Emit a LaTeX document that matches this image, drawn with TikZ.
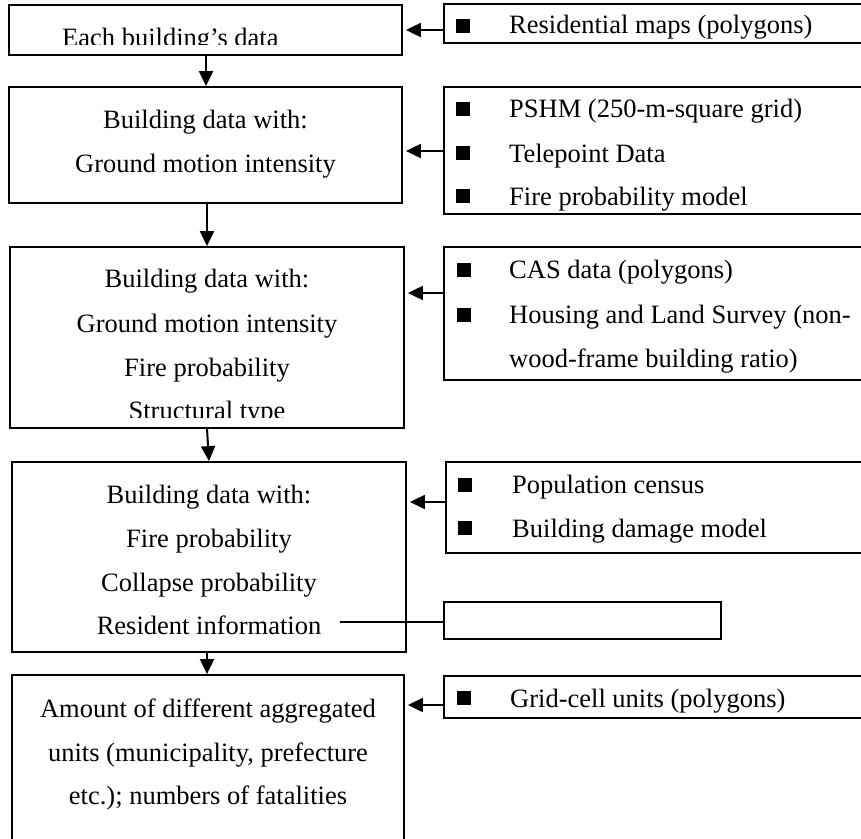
\documentclass[tikz,border=0pt]{standalone}
\usepackage{fontspec}
\setmainfont{Liberation Serif}
\usetikzlibrary{arrows.meta}
\begin{document}
\begin{tikzpicture}[x=1pt,y=-1pt,
  box/.style={draw,line width=1.8pt,inner sep=0pt},
  thinbox/.style={draw,line width=1.1pt,inner sep=0pt},
  txt/.style={font=\fontsize{26.5}{30}\selectfont,inner sep=0pt,anchor=base},
  rtxt/.style={font=\fontsize{26.5}{30}\selectfont,inner sep=0pt,anchor=base west},
  bul/.style={fill=black,inner sep=0pt,minimum width=14pt,minimum height=14pt},
  arr/.style={line width=2pt,-{Triangle[length=15pt,width=14pt]}},
  link/.style={line width=1.1pt}]
\path[use as bounding box,fill=white] (0,0) rectangle (861,838);
\clip (0,0) rectangle (861,838);
% left boxes
\node[box,minimum width=393pt,minimum height=50pt]  (b1) at (205.5,30) {};
\node[box,minimum width=393pt,minimum height=116pt] (b2) at (205.5,145) {};
\node[box,minimum width=394pt,minimum height=181pt] (b3) at (207,337.5) {};
\node[box,minimum width=394pt,minimum height=190pt] (b4) at (209,557) {};
\node[box,minimum width=392pt,minimum height=175pt] (b5) at (208,762.5) {};
% right boxes
\node[box,minimum width=426pt,minimum height=39pt]  (r1) at (657,23.5) {};
\node[box,minimum width=426pt,minimum height=127pt] (r2) at (657,150.5) {};
\node[box,minimum width=426pt,minimum height=133pt] (r3) at (657,313.5) {};
\node[box,minimum width=424pt,minimum height=91pt]  (r4) at (658,507.5) {};
\node[thinbox,minimum width=277pt,minimum height=37pt] (e) at (582.5,620.5) {};
\node[box,minimum width=426pt,minimum height=42pt]  (r6) at (657,697) {};
% left texts
\begin{scope}
\clip (20,10) rectangle (390,44.5);
\node[txt,anchor=base west] (t1) at (62,46) {Each building’s data};
\end{scope}
\node[txt] (t21) at (205.5,128) {Building data with:};
\node[txt] (t22) at (205.5,172) {Ground motion intensity};
\node[txt] (t31) at (207,287) {Building data with:};
\node[txt] (t32) at (207,332) {Ground motion intensity};
\node[txt] (t33) at (207,376) {Fire probability};
\begin{scope}
\clip (20,390) rectangle (390,417.5);
\node[txt] (t34) at (207,419) {Structural type};
\end{scope}
\node[txt] (t41) at (209,503) {Building data with:};
\node[txt] (t42) at (209,547) {Fire probability};
\node[txt] (t43) at (209,591) {Collapse probability};
\node[txt] (t44) at (209,634) {Resident information};
\node[txt] (t51) at (208,717) {Amount of different aggregated};
\node[txt] (t52) at (208,761) {units (municipality, prefecture};
\node[txt] (t53) at (208,804) {etc.); numbers of fatalities};
% right texts and bullets
\node[bul] (p11) at (463,26) {};
\node[rtxt] (s11) at (509,33) {Residential maps (polygons)};
\node[bul] (p21) at (463,109) {};
\node[rtxt] (s21) at (509,117) {PSHM (250-m-square grid)};
\node[bul] (p22) at (463,153) {};
\node[rtxt] (s22) at (509,162) {Telepoint Data};
\node[bul] (p23) at (463,196) {};
\node[rtxt] (s23) at (509,205) {Fire probability model};
\node[bul] (p31) at (464,270) {};
\node[rtxt] (s31) at (509,278) {CAS data (polygons)};
\node[bul] (p32) at (464,315) {};
\node[rtxt] (s32) at (509,323) {Housing and Land Survey (non-};
\node[rtxt] (s33) at (509,367) {wood-frame building ratio)};
\node[bul] (p41) at (465,485) {};
\node[rtxt] (s41) at (512,493) {Population census};
\node[bul] (p42) at (465,528) {};
\node[rtxt] (s42) at (512,537) {Building damage model};
\node[bul] (p61) at (464,698) {};
\node[rtxt] (s61) at (510,707) {Grid-cell units (polygons)};
% horizontal arrows
\draw[arr,shorten >=3pt] (r1.west |- 0,30) -- (b1.east |- 0,30);
\draw[arr,shorten >=3pt] (r2.west |- 0,151) -- (b2.east |- 0,151);
\draw[arr,shorten >=3pt] (r3.west |- 0,293) -- (b3.east |- 0,293);
\draw[arr,shorten >=3pt] (r4.west |- 0,502) -- (b4.east |- 0,502);
\draw[arr,shorten >=3pt] (r6.west |- 0,705) -- (b5.east |- 0,705);
% vertical arrows
\draw[arr] (b1.south -| 206,0) -- (b2.north -| 206,0);
\draw[arr] (b2.south -| 207,0) -- (b3.north -| 207,0);
\draw[arr] (b3.south -| 207,0) -- (b4.north -| 209,0);
\draw[arr] (b4.south -| 207,0) -- (b5.north -| 207,0);
% resident information link
\coordinate (ri) at (340,622);
\draw[link] (ri) -- (e.west |- ri);
\end{tikzpicture}
\end{document}
